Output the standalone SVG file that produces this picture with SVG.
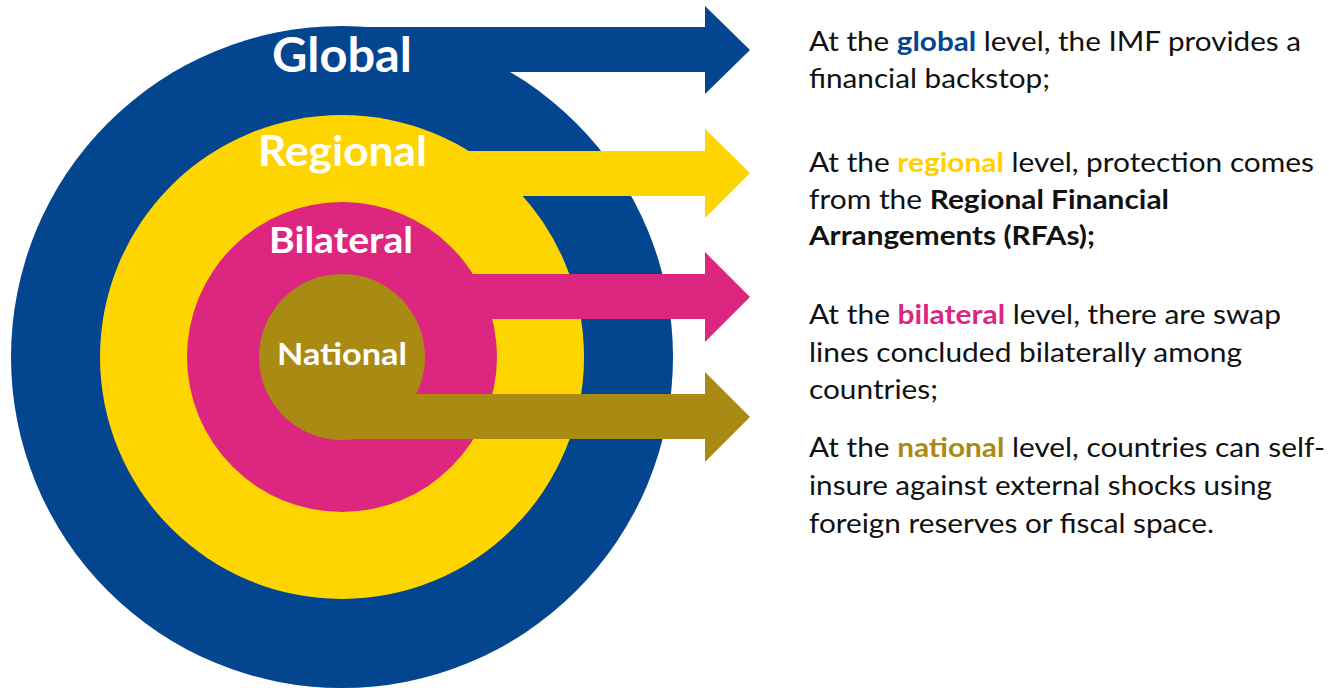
<svg xmlns="http://www.w3.org/2000/svg" width="1329" height="688" viewBox="0 0 1329 688">
  <style>
    .ring-label { font-family: Lato, "Open Sans", "Liberation Sans", sans-serif; font-weight: 700; fill: #ffffff; text-anchor: middle; }
    .body { font-family: Lato, "Open Sans", "Liberation Sans", sans-serif; font-size: 26px; fill: #111111; }
    .b { font-weight: 700; }
    .c-global { fill: #03468f; }
    .c-regional { fill: #ffd500; }
    .c-bilateral { fill: #dc267f; }
    .c-national { fill: #a98a12; }
    .t-regional { fill: #ffcf00; }
  </style>

  <rect width="1329" height="688" fill="#ffffff"/>

  <!-- concentric levels, outermost first -->
  <g id="node-global">
    <circle class="c-global" cx="342" cy="357" r="331"/>
    <text class="ring-label" x="342" y="72" font-size="47" textLength="140" lengthAdjust="spacingAndGlyphs">Global</text>
  </g>
  <g id="node-regional">
    <circle class="c-regional" cx="342" cy="357" r="242"/>
    <text class="ring-label" x="342.5" y="166" font-size="42" textLength="169" lengthAdjust="spacingAndGlyphs">Regional</text>
  </g>
  <g id="node-bilateral">
    <circle class="c-bilateral" cx="342" cy="357" r="155"/>
    <text class="ring-label" x="341" y="253" font-size="36" textLength="144" lengthAdjust="spacingAndGlyphs">Bilateral</text>
  </g>

  <!-- block arrows leading out of each level -->
  <g id="connectors">
    <path class="c-global" d="M342,27 L705,27 L705,6 L750,50 L705,94 L705,72 L509.5,72 A330 330 0 0 0 342,27 Z"/>
    <path class="c-regional" d="M440,151 L705,151 L705,129 L750,173 L705,218 L705,196 L440,196 Z"/>
    <path class="c-bilateral" d="M342,274 L705,274 L705,252 L750,297 L705,342 L705,319 L342,319 Z"/>
    <path class="c-national" d="M342,394 L705,394 L705,372 L750,417 L705,462 L705,439 L342,439 Z"/>
  </g>

  <g id="node-national">
    <circle class="c-national" cx="342" cy="357" r="83"/>
    <text class="ring-label" x="342" y="365" font-size="31" textLength="130" lengthAdjust="spacingAndGlyphs">National</text>
  </g>

  <!-- explanatory notes -->
  <g id="notes">
    <text class="body" x="809" y="51" textLength="492" lengthAdjust="spacingAndGlyphs">At the <tspan class="b c-global">global</tspan> level, the IMF provides a</text>
    <text class="body" x="809" y="88" textLength="241" lengthAdjust="spacingAndGlyphs">financial backstop;</text>

    <text class="body" x="809" y="172" textLength="505" lengthAdjust="spacingAndGlyphs">At the <tspan class="b t-regional">regional</tspan> level, protection comes</text>
    <text class="body" x="809" y="209" textLength="360" lengthAdjust="spacingAndGlyphs">from the <tspan class="b">Regional Financial</tspan></text>
    <text class="body b" x="809" y="245" textLength="286" lengthAdjust="spacingAndGlyphs">Arrangements (RFAs);</text>

    <text class="body" x="809" y="324" textLength="472" lengthAdjust="spacingAndGlyphs">At the <tspan class="b c-bilateral">bilateral</tspan> level, there are swap</text>
    <text class="body" x="809" y="362" textLength="433" lengthAdjust="spacingAndGlyphs">lines concluded bilaterally among</text>
    <text class="body" x="809" y="399" textLength="129" lengthAdjust="spacingAndGlyphs">countries;</text>

    <text class="body" x="809" y="457" textLength="516" lengthAdjust="spacingAndGlyphs">At the <tspan class="b c-national">national</tspan> level, countries can self-</text>
    <text class="body" x="809" y="495" textLength="463" lengthAdjust="spacingAndGlyphs">insure against external shocks using</text>
    <text class="body" x="809" y="533" textLength="405" lengthAdjust="spacingAndGlyphs">foreign reserves or fiscal space.</text>
  </g>
</svg>
